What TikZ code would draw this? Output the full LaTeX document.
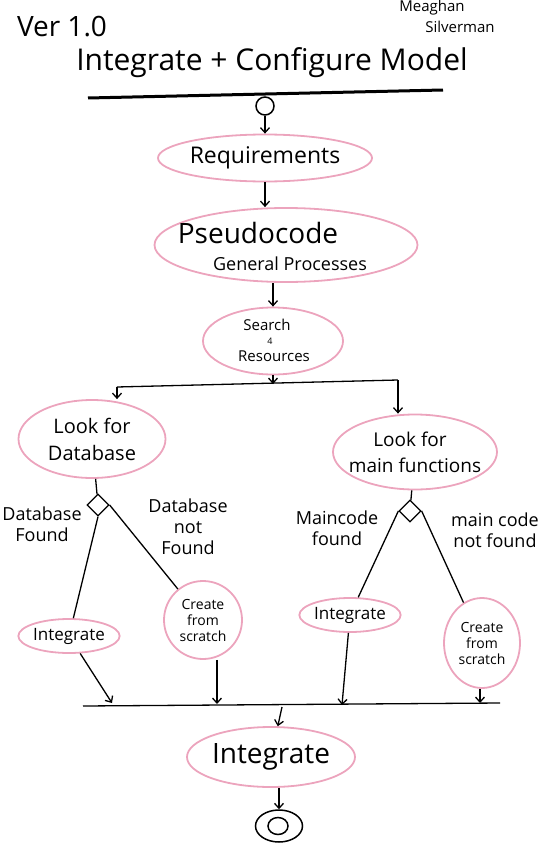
\documentclass[tikz,border=0pt]{standalone}
\usepackage{fontspec}
\setmainfont{Open Sans}
\usetikzlibrary{shapes.geometric,arrows.meta}
\definecolor{pinkline}{RGB}{236,164,189}
\begin{document}
\begin{tikzpicture}[x=1pt,y=-1pt,
  act/.style={ellipse, draw=pinkline, line width=1.8pt, inner sep=0pt, align=center},
  arr/.style={-{Straight Barb[length=5pt,width=9pt]}, line width=1.3pt},
  ln/.style={line width=1.3pt},
  txt/.style={inner sep=0pt},
  lbl/.style={align=center, font=\fontsize{18}{21}\selectfont},
  dec/.style={diamond, draw, line width=1.3pt, minimum size=22pt, inner sep=0pt}]
\useasboundingbox (0,0) rectangle (555,851);

% header
\node[font=\fontsize{28}{30}\selectfont] (ver) at (62,27) {Ver 1.0};
\node[font=\fontsize{15}{16}\selectfont] (auth1) at (432,8) {Meaghan};
\node[font=\fontsize{15}{16}\selectfont] (auth2) at (460,27) {Silverman};
\node[font=\fontsize{30}{32}\selectfont] (title) at (272,63) {Integrate + Configure Model};
\coordinate (ul1) at (88,98);
\coordinate (ul2) at (443,90);
\draw[line width=3pt] (ul1) -- (ul2);

% start
\node[circle, draw, line width=1.5pt, minimum size=18pt, inner sep=0pt] (start) at (265,106) {};

% main chain
\node[act, minimum width=214pt, minimum height=47pt, font=\fontsize{23}{25}\selectfont] (req) at (265,158) {Requirements};
\node[act, minimum width=263pt, minimum height=74pt] (pseudo) at (286,245) {};
\node[txt, font=\fontsize{28}{30}\selectfont] (pt1) at (258,233) {Pseudocode};
\node[txt, font=\fontsize{18}{20}\selectfont] (pt2) at (290,264) {General Processes};
\node[act, minimum width=140pt, minimum height=67pt] (srch) at (273,341) {};
\node[txt, font=\fontsize{15}{16}\selectfont] (st1) at (267,325) {Search};
\node[txt, font=\fontsize{9}{10}\selectfont] (st2) at (270,341) {4};
\node[txt, font=\fontsize{15}{16}\selectfont] (st3) at (274,356) {Resources};

\draw[arr] (start) -- (req);
\draw[arr] (req.south) -- (req.south |- pseudo.north);
\draw[arr] (srch.north |- pseudo.south) -- (srch.north);

% fork
\coordinate (fl) at (117,387);
\coordinate (fr) at (398,380);
\coordinate (fm) at (273,384);
\draw[arr] (srch.south) -- (fm);
\draw[ln] (fl) -- (fr);

\node[act, minimum width=147pt, minimum height=78pt, font=\fontsize{20}{27}\selectfont] (ldb) at (92,439) {Look for\\Database};
\node[act, minimum width=164pt, minimum height=75pt] (lmf) at (415,452) {};
\node[txt, font=\fontsize{19}{21}\selectfont] (lt1) at (410,439) {Look for};
\node[txt, font=\fontsize{19}{21}\selectfont] (lt2) at (415,465) {main functions};
\draw[arr] (fl) -- (fl |- ldb.north);
\draw[arr] (fr) -- (fr |- lmf.north);

% decisions
\node[dec] (dl) at (98,505) {};
\node[dec] (dr) at (410,511) {};
\draw[ln] (ldb) -- (dl);
\draw[ln] (lmf) -- (dr);

\node[act, minimum width=98pt, minimum height=34pt, font=\fontsize{17}{19}\selectfont] (intL) at (69,636) {Integrate};
\node[act, minimum width=78pt, minimum height=78pt, font=\fontsize{14}{16}\selectfont] (crL) at (203,620) {Create\\from\\scratch};
\node[act, minimum width=92pt, minimum height=34pt, font=\fontsize{17}{19}\selectfont] (intR) at (350,615) {Integrate};
\node[act, minimum width=76pt, minimum height=90pt, font=\fontsize{14}{16}\selectfont] (crR) at (482,643) {Create\\from\\scratch};

\draw[ln] (dl.south) -- (intL);
\draw[ln] (dl.east) -- (crL);
\draw[ln] (dr.west) -- (intR);
\draw[ln] (dr.east) -- (crR);

\node[lbl] (lab1) at (42,524) {Database\\Found};
\node[lbl] (lab2) at (188,527) {Database\\not\\Found};
\node[lbl] (lab3) at (337,528) {Maincode\\found};
\node[lbl] (lab4) at (495,530) {main code\\not found};

% join
\coordinate (jl) at (83,706);
\coordinate (jr) at (500,703);
\coordinate (j1) at (112,703);
\coordinate (j2) at (217,704);
\coordinate (j3) at (342,705);
\coordinate (j4) at (480,703);
\coordinate (jm) at (282,707);
\draw[ln] (jl) -- (jr);
\draw[arr] (intL) -- (j1);
\draw[arr] (j2 |- crL.south) -- (j2);
\draw[arr] (intR) -- (j3);
\draw[arr] (j4 |- crR.south) -- (j4);

\node[act, minimum width=168pt, minimum height=60pt, font=\fontsize{28}{30}\selectfont] (fin) at (271,757) {Integrate};
\draw[arr] (jm) -- (fin);

% end
\node[ellipse, draw, line width=1.5pt, minimum width=47pt, minimum height=32pt, inner sep=0pt] (endn) at (279,826) {};
\node[ellipse, draw, line width=1.5pt, minimum width=20pt, minimum height=17pt, inner sep=0pt] (endi) at (278,826) {};
\draw[arr] (endn |- fin.south) -- (endn);
\end{tikzpicture}
\end{document}
